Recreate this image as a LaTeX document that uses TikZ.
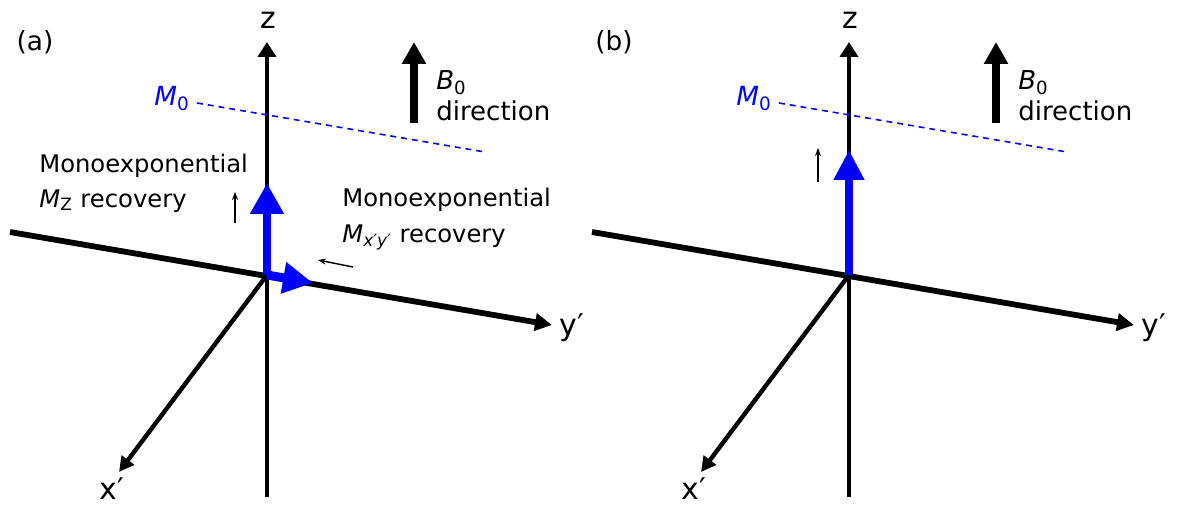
\documentclass[tikz,border=0pt]{standalone}
\usepackage{fontspec}
\setmainfont{DejaVu Sans}
\usepackage{tikz}
\usetikzlibrary{arrows.meta,positioning,calc}

\tikzset{
  txt/.style={inner sep=0pt,font=\fontsize{13.8}{19.8}\selectfont},
  axlab/.style={inner sep=0pt,font=\fontsize{17}{20}\selectfont},
  zaxis/.style={line width=2.5pt,-{Triangle[length=0.3cm,width=0.36cm]}},
  yaxis/.style={line width=3.3pt,-{Triangle[length=0.34cm,width=0.34cm]}},
  xaxis/.style={line width=2.5pt,-{Triangle[length=0.3cm,width=0.3cm]}},
  stem/.style={line width=2pt},
  magn/.style={blue,line width=5.1pt,-{Triangle[length=0.62cm,width=0.64cm]}},
  field/.style={line width=4pt,-{Triangle[length=0.44cm,width=0.46cm]}},
  hint/.style={line width=0.8pt,-{Stealth[length=0.16cm,width=0.12cm]}},
  mnull/.style={blue,line width=0.9pt,dash pattern=on 3.4pt off 2.8pt}
}

\begin{document}
\begin{tikzpicture}[x=0.02cm,y=-0.02cm]
\useasboundingbox (0,0) rectangle (1181,506);

% ---- panel (a)
\node[txt,font=\fontsize{15}{18}\selectfont] (taga) at (35,42) {(a)};
\coordinate (oa) at (267,275);
\coordinate (ztopa) at (267,42);
\coordinate (zbota) at (267,497);
\coordinate (ystarta) at (10,232);
\coordinate (yenda) at (552,325);
\coordinate (xenda) at (119,472);
\node[axlab] (zlaba) at (268,20) {z};
\node[axlab] (ylaba) at (572,328) {y′};
\node[axlab] (xlaba) at (112,489) {x′};
\draw[stem] (oa) -- (zbota);
\draw[zaxis] (oa) -- (ztopa);
\draw[yaxis] (ystarta) -- (yenda);
\draw[xaxis] (oa) -- (xenda);
% M0 level
\node[txt,blue,font=\fontsize{15}{18}\selectfont] (mnulla) at (172,99) {\textit{M}\textsubscript{0}};
\coordinate (mnendla) at (485,152);
\draw[mnull] (197,103) -- (mnendla);
% B0
\coordinate (bbota) at (414,123);
\coordinate (btopa) at (414,42);
\draw[field] (bbota) -- (btopa);
\node[txt,anchor=west,align=left,font=\fontsize{14.8}{17.5}\selectfont] (bdira) at (436,96)
  {\textit{B}\textsubscript{0}\\direction};
% magnetisation vectors
\coordinate (mza) at (267,183);
\coordinate (mxya) at (313,283);
\draw[magn] (oa) -- (mza);
\draw[magn,-{Triangle[length=0.6cm,width=0.6cm]}] (oa) -- (mxya);
\node[txt,anchor=west,align=left] (rzlab) at (39,183)
  {Monoexponential\\\textit{M}\textsubscript{Z} recovery};
\node[txt,anchor=west,align=left,font=\fontsize{13.8}{21}\selectfont] (rxylab) at (342,219)
  {Monoexponential\\\textit{M}\textsubscript{\textit{x′y′}} recovery};
\coordinate (upa1) at (235,223);
\coordinate (upa2) at (235,192);
\draw[hint] (upa1) -- (upa2);
\coordinate (lfa1) at (353,267);
\coordinate (lfa2) at (318,260);
\draw[hint] (lfa1) -- (lfa2);

% ---- panel (b)
\node[txt,font=\fontsize{15}{18}\selectfont] (tagb) at (614,42) {(b)};
\coordinate (ob) at (849,275);
\coordinate (ztopb) at (849,42);
\coordinate (zbotb) at (849,497);
\coordinate (ystartb) at (592,232);
\coordinate (yendb) at (1134,325);
\coordinate (xendb) at (701,472);
\node[axlab] (zlabb) at (850,20) {z};
\node[axlab] (ylabb) at (1154,328) {y′};
\node[axlab] (xlabb) at (694,489) {x′};
\draw[stem] (ob) -- (zbotb);
\draw[zaxis] (ob) -- (ztopb);
\draw[yaxis] (ystartb) -- (yendb);
\draw[xaxis] (ob) -- (xendb);
\node[txt,blue,font=\fontsize{15}{18}\selectfont] (mnullb) at (754,99) {\textit{M}\textsubscript{0}};
\coordinate (mnendlb) at (1067,152);
\draw[mnull] (779,103) -- (mnendlb);
\coordinate (bbotb) at (996,123);
\coordinate (btopb) at (996,42);
\draw[field] (bbotb) -- (btopb);
\node[txt,anchor=west,align=left,font=\fontsize{14.8}{17.5}\selectfont] (bdirb) at (1018,96)
  {\textit{B}\textsubscript{0}\\direction};
\coordinate (mzb) at (849,150);
\draw[magn,-{Triangle[length=0.6cm,width=0.58cm]}] (ob) -- (mzb);
\coordinate (upb1) at (818,182);
\coordinate (upb2) at (818,148);
\draw[hint] (upb1) -- (upb2);
\end{tikzpicture}
\end{document}
